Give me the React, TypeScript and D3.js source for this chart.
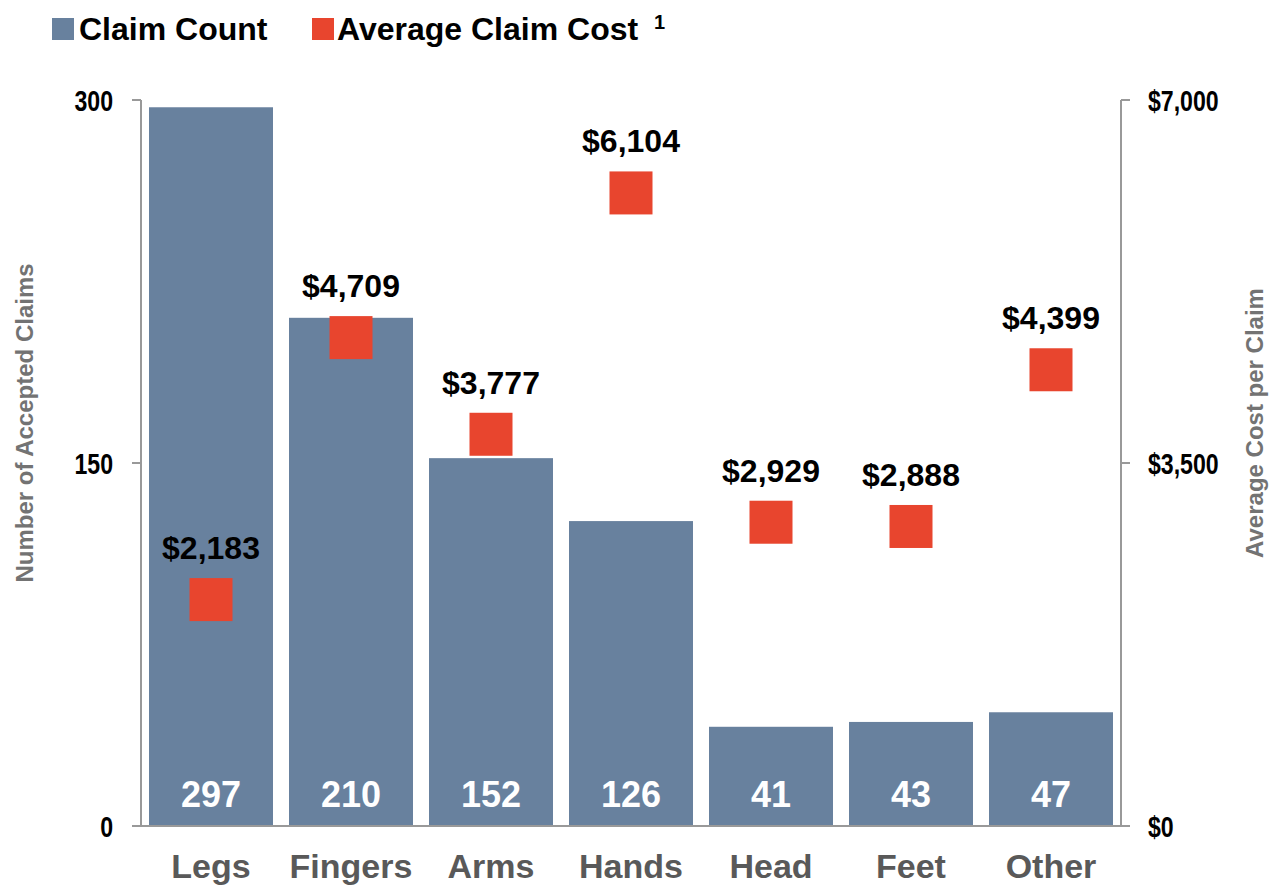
import { useEffect, useRef } from "react";
import * as d3 from "d3";

const categories = ["Legs", "Fingers", "Arms", "Hands", "Head", "Feet", "Other"];
const claimCounts = [297, 210, 152, 126, 41, 43, 47];
const avgCosts = [2183, 4709, 3777, 6104, 2929, 2888, 4399];
const leftTicks = [0, 150, 300];
const rightTicks = [0, 3500, 7000];

const BAR = "#68819e";
const RED = "#e8452e";
const GREY_AXIS = "#999999";
const FONT = "'Liberation Sans', Arial, sans-serif";

function App() {
  const svgRef = useRef(null);
  const width = 1280;
  const height = 886;

  useEffect(() => {
    const svg = d3.select(svgRef.current);
    svg.selectAll("*").remove();

    const left = 141, right = 1121, top = 100, bottom = 826;

    const x = d3.scaleBand().domain(categories).range([left, right]).paddingInner(16 / 140).paddingOuter(8 / 140);
    const yL = d3.scaleLinear().domain([0, 300]).range([bottom, top]);
    const yR = d3.scaleLinear().domain([0, 7000]).range([bottom, top]);

    // bars
    svg.append("g")
      .selectAll("rect")
      .data(claimCounts)
      .join("rect")
      .attr("x", (d, i) => x(categories[i]))
      .attr("y", (d) => yL(d))
      .attr("width", x.bandwidth())
      .attr("height", (d) => bottom - yL(d))
      .attr("fill", BAR);

    // bar value labels
    svg.append("g")
      .selectAll("text")
      .data(claimCounts)
      .join("text")
      .attr("x", (d, i) => x(categories[i]) + x.bandwidth() / 2)
      .attr("y", 807)
      .attr("text-anchor", "middle")
      .attr("font-family", FONT)
      .attr("font-weight", "bold")
      .attr("font-size", "36px")
      .attr("fill", "white")
      .text((d) => d);

    // axes lines
    const axisG = svg.append("g").attr("stroke", GREY_AXIS).attr("stroke-width", 2).attr("fill", "none");
    axisG.append("line").attr("x1", left).attr("x2", left).attr("y1", top).attr("y2", bottom);
    axisG.append("line").attr("x1", right).attr("x2", right).attr("y1", top).attr("y2", bottom);
    axisG.append("line").attr("x1", left - 9).attr("x2", right + 9).attr("y1", bottom).attr("y2", bottom);
    axisG.selectAll(".lt").data(leftTicks).join("line")
      .attr("x1", left - 9).attr("x2", left).attr("y1", (d) => yL(d)).attr("y2", (d) => yL(d));
    axisG.selectAll(".rt").data(rightTicks).join("line")
      .attr("x1", right).attr("x2", right + 9).attr("y1", (d) => yR(d)).attr("y2", (d) => yR(d));

    // tick labels (condensed look via horizontal scale)
    svg.append("g")
      .selectAll("text")
      .data(leftTicks)
      .join("text")
      .attr("transform", (d) => `translate(113,${yL(d) + 11}) scale(0.77,1)`)
      .attr("text-anchor", "end")
      .attr("font-family", FONT)
      .attr("font-weight", "bold")
      .attr("font-size", "30px")
      .attr("fill", "black")
      .text((d) => d);

    svg.append("g")
      .selectAll("text")
      .data(rightTicks)
      .join("text")
      .attr("transform", (d) => `translate(1148,${yR(d) + 11}) scale(0.77,1)`)
      .attr("text-anchor", "start")
      .attr("font-family", FONT)
      .attr("font-weight", "bold")
      .attr("font-size", "30px")
      .attr("fill", "black")
      .text((d) => d3.format("$,")(d));

    // markers
    const size = 43;
    svg.append("g")
      .selectAll("rect")
      .data(avgCosts)
      .join("rect")
      .attr("x", (d, i) => x(categories[i]) + x.bandwidth() / 2 - size / 2)
      .attr("y", (d) => yR(d) - size / 2)
      .attr("width", size)
      .attr("height", size)
      .attr("fill", RED);

    svg.append("g")
      .selectAll("text")
      .data(avgCosts)
      .join("text")
      .attr("x", (d, i) => x(categories[i]) + x.bandwidth() / 2)
      .attr("y", (d) => yR(d) - size / 2 - 19)
      .attr("text-anchor", "middle")
      .attr("font-family", FONT)
      .attr("font-weight", "bold")
      .attr("font-size", "32px")
      .attr("fill", "black")
      .text((d) => d3.format("$,")(d));

    // category labels
    svg.append("g")
      .selectAll("text")
      .data(categories)
      .join("text")
      .attr("x", (d) => x(d) + x.bandwidth() / 2)
      .attr("y", 878)
      .attr("text-anchor", "middle")
      .attr("font-family", FONT)
      .attr("font-weight", "bold")
      .attr("font-size", "34px")
      .attr("fill", "#595959")
      .text((d) => d);

    // axis titles
    svg.append("text")
      .attr("transform", "translate(33,423) rotate(-90)")
      .attr("text-anchor", "middle")
      .attr("font-family", FONT)
      .attr("font-weight", "bold")
      .attr("font-size", "24px")
      .attr("fill", "#737373")
      .text("Number of Accepted Claims");

    svg.append("text")
      .attr("transform", "translate(1263,423) rotate(-90)")
      .attr("text-anchor", "middle")
      .attr("font-family", FONT)
      .attr("font-weight", "bold")
      .attr("font-size", "24px")
      .attr("fill", "#737373")
      .text("Average Cost per Claim");

    // legend
    const legend = svg.append("g");
    legend.append("rect").attr("x", 52).attr("y", 18).attr("width", 22).attr("height", 22).attr("fill", BAR);
    legend.append("text").attr("x", 79).attr("y", 40)
      .attr("font-family", FONT).attr("font-weight", "bold").attr("font-size", "32px").attr("fill", "black")
      .text("Claim Count");
    legend.append("rect").attr("x", 312).attr("y", 18).attr("width", 22).attr("height", 22).attr("fill", RED);
    legend.append("text").attr("x", 337).attr("y", 40)
      .attr("font-family", FONT).attr("font-weight", "bold").attr("font-size", "32px").attr("fill", "black")
      .text("Average Claim Cost");
    legend.append("text").attr("x", 654).attr("y", 29)
      .attr("font-family", FONT).attr("font-weight", "bold").attr("font-size", "20px").attr("fill", "black")
      .text("1");
  }, []);

  return (
    <svg
      ref={svgRef}
      width={width}
      height={height}
      viewBox={`0 0 ${width} ${height}`}
      style={{ position: "absolute", left: 0, top: 0 }}
    />
  );
}

export default App;
